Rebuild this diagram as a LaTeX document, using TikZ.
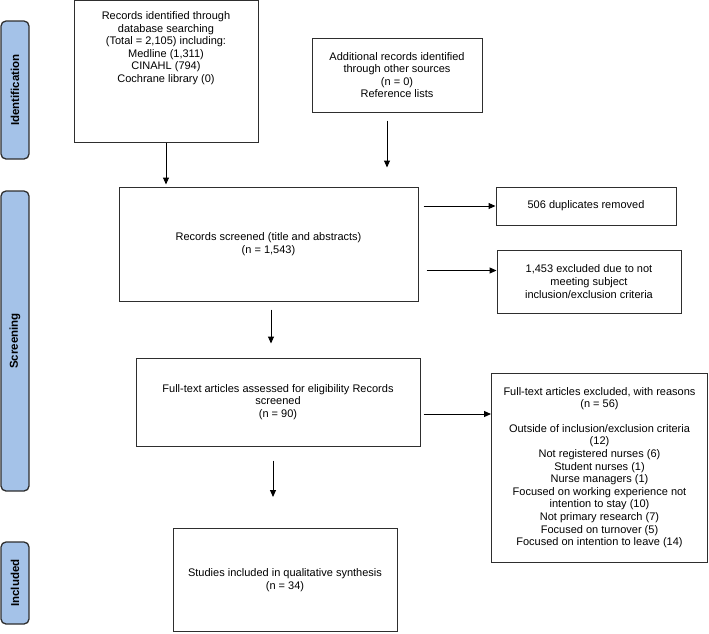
\documentclass[tikz,border=0pt]{standalone}
\usepackage{fontspec}
\setmainfont{Liberation Sans}
\usetikzlibrary{positioning,arrows.meta}

\definecolor{stageblue}{HTML}{A4C2E8}
\definecolor{linegray}{HTML}{2E2E2E}

\begin{document}
\begin{tikzpicture}[x=1pt, y=1pt, >={Triangle[length=7pt, width=6pt]}]
    \tikzstyle{box} = [draw=linegray, line width=1pt, rectangle, inner sep=2pt,
	align=center, font=\fontsize{11pt}{12.6pt}\selectfont]
    \tikzstyle{stage} = [draw=linegray, line width=1.3pt, fill=stageblue,
	rounded corners=5pt, minimum width=28pt, inner sep=0pt,
	font=\fontsize{11.5pt}{13pt}\selectfont\bfseries]
    \tikzstyle{flow} = [->, line width=1pt, draw=black]

	\useasboundingbox (0,0) rectangle (709,-633);

	% stages on the left
	\node[stage, minimum height=138pt] (ident) at (15,-90)
		{\rotatebox{90}{Identification}};
	\node[stage, minimum height=300pt] (screen) at (15,-341)
		{\rotatebox{90}{Screening}};
	\node[stage, minimum height=82pt] (incl) at (15,-583)
		{\rotatebox{90}{Included}};

	% boxes
	\node[box, minimum width=184pt, minimum height=142pt] (dbsearch) at (166,-71.5) {};
	\node[box, draw=none, below=9pt of dbsearch.north] (dbtext)
		{Records identified through\\database searching\\(Total = 2,105) including:\\
		Medline (1,311)\\CINAHL (794)\\Cochrane library (0)};
	\node[box, minimum width=170pt, minimum height=74pt] (other) at (397,-75)
		{Additional records identified\\through other sources\\(n = 0)\\Reference lists};
	\node[box, minimum width=299pt, minimum height=114pt] (screened) at (268.5,-244)
		{Records screened (title and abstracts)\\(n = 1,543)};
	\node[box, minimum width=180pt, minimum height=38pt] (dupl) at (586,-206)
		{506 duplicates removed};
	\node[box, minimum width=184pt, minimum height=63pt] (excl) at (589,-281.5)
		{1,453 excluded due to not\\meeting subject\\inclusion/exclusion criteria};
	\node[box, minimum width=284pt, minimum height=88pt] (fulltext) at (278,-402)
		{Full-text articles assessed for eligibility Records\\screened\\(n = 90)};
	\node[box, minimum width=216pt, minimum height=189pt] (ftexcl) at (599.5,-467.5)
		{Full-text articles excluded, with reasons\\(n = 56)\\[12pt]
		Outside of inclusion/exclusion criteria\\(12)\\Not registered nurses (6)\\
		Student nurses (1)\\Nurse managers (1)\\Focused on working experience not\\
		intention to stay (10)\\Not primary research (7)\\Focused on turnover (5)\\
		Focused on intention to leave (14)};
	\node[box, minimum width=224pt, minimum height=103pt] (included) at (285,-580)
		{Studies included in qualitative synthesis\\(n = 34)};

	% arrows
	\draw[flow, shorten >=2pt] (dbsearch.south) -- (dbsearch.south |- screened.north);
	\draw[flow, shorten <=8pt, shorten >=19pt] ([xshift=-10pt]other.south)
		-- ([xshift=-10pt]other.south |- screened.north);
	\draw[flow, shorten <=5pt] (dupl.west -| screened.east) -- (dupl.west);
	\draw[flow, shorten <=8pt] ([yshift=11pt]excl.west -| screened.east)
		-- ([yshift=11pt]excl.west);
	\draw[flow, shorten <=8pt, shorten >=14pt] ([xshift=2.5pt]screened.south)
		-- ([xshift=2.5pt]screened.south |- fulltext.north);
	\draw[flow, shorten <=3pt] ([yshift=-12pt]fulltext.east)
		-- ([yshift=-12pt]fulltext.east -| ftexcl.west);
	\draw[flow, shorten <=14pt, shorten >=31pt] ([xshift=-5pt]fulltext.south)
		-- ([xshift=-5pt]fulltext.south |- included.north);
\end{tikzpicture}
\end{document}
